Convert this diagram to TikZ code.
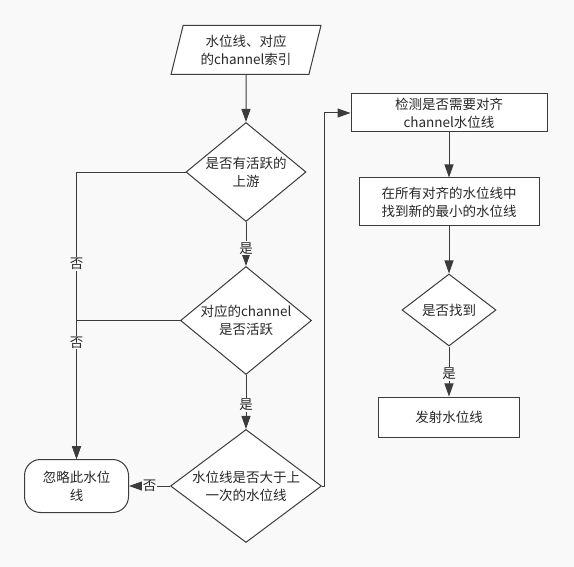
\documentclass[tikz,border=0pt]{standalone}
\usepackage{fontspec}
\setmainfont{Noto Sans CJK SC}
\usetikzlibrary{arrows.meta}
\usetikzlibrary{positioning}
\usetikzlibrary{shapes.geometric}
\definecolor{bgcol}{RGB}{249,249,249}
\definecolor{linecol}{RGB}{60,60,60}
\definecolor{txtcol}{RGB}{40,40,40}
\tikzset{
  base/.style={draw=linecol, fill=white, line width=1pt, text=txtcol, align=center, inner sep=0pt, font=\fontsize{13.5}{18}\selectfont},
  io/.style={base, trapezium, trapezium left angle=74, trapezium right angle=106, trapezium stretches=true, minimum width=150pt, minimum height=49pt},
  decision/.style={base, diamond},
  block/.style={base, rectangle},
  term/.style={base, rectangle, rounded corners=16pt, minimum width=104pt, minimum height=53pt},
  arr/.style={draw=linecol, line width=1pt, -{Triangle[length=13pt,width=9pt]}},
  lbl/.style={fill=bgcol, text=txtcol, inner sep=1pt, font=\fontsize{13.5}{15}\selectfont},
}

\begin{document}
\begin{tikzpicture}[x=1pt,y=-1pt]
      \fill[bgcol] (0,0) rectangle (574,567);
      \useasboundingbox (0,0) rectangle (574,567);

      \node[io] (s1) at (246,50) {水位线、对应\\的channel索引};
      \node[decision, aspect=1.21, minimum width=120pt, minimum height=99pt, below=47pt of s1] (d1) {是否有活跃的\\上游};
      \node[decision, aspect=1.21, minimum width=131pt, minimum height=108pt, below=44pt of d1] (d2) {对应的channel\\是否活跃};
      \node[decision, aspect=1.34, minimum width=151pt, minimum height=113pt, below=54pt of d2] (d3) {水位线是否大于上\\一次的水位线};
      \node[term, left=41pt of d3] (e1) {忽略此水位\\线};

      \node[block, minimum width=196pt, minimum height=38pt] (b1) at (449,113) {检测是否需要对齐\\channel水位线};
      \node[block, minimum width=180pt, minimum height=48pt, below=45pt of b1] (b2) {在所有对齐的水位线中\\找到新的最小的水位线};
      \node[decision, aspect=1.3, minimum width=94pt, minimum height=72pt, below=47pt of b2] (d4) {是否找到};
      \node[block, minimum width=141pt, minimum height=40pt, below=50pt of d4] (b3) {发射水位线};

      \draw[arr] (s1) -- (d1);
      \draw[arr] (d1) -- node[lbl, pos=0.6] {是} (d2);
      \draw[arr] (d2) -- node[lbl, pos=0.55] {是} (d3);
      \draw[arr] (d3) -- node[lbl] {否} (e1);
      \draw[arr] (d1.west) -| node[lbl, pos=0.66] {否} (e1.north);
      \draw[arr] (d2.west) -| node[lbl, pos=0.58] {否} (e1.north);
      \draw[arr] (d3.east) -- ++(2,0) |- (b1.west);
      \draw[arr] (b1) -- (b2);
      \draw[arr] (b2) -- (d4);
      \draw[arr] (d4) -- node[lbl, pos=0.55] {是} (b3);
\end{tikzpicture}
\end{document}
